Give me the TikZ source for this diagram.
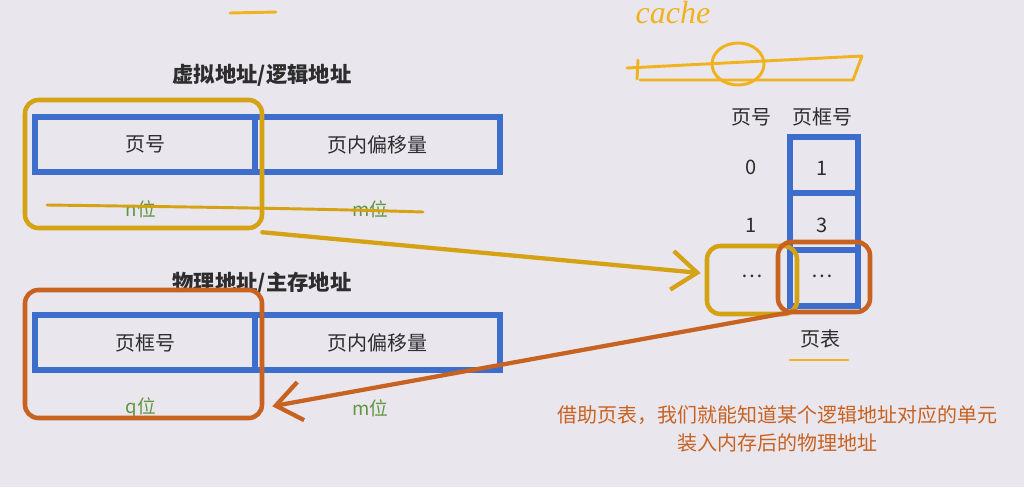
\documentclass[tikz,border=0pt]{standalone}
\usepackage{fontspec}
\setmainfont{Noto Sans CJK SC}
\newfontfamily\hand{Liberation Serif}
\usetikzlibrary{arrows.meta,calc}
\definecolor{bg}{RGB}{233,230,238}
\definecolor{pblue}{RGB}{62,110,204}
\definecolor{pyellow}{RGB}{212,162,18}
\definecolor{sketchy}{RGB}{240,178,30}
\definecolor{porange}{RGB}{200,98,32}
\definecolor{pgreen}{RGB}{96,150,64}
\definecolor{txt}{RGB}{45,45,45}
\tikzset{
  sz/.style 2 args={minimum width=#1*0.75pt, minimum height=#2*0.75pt, inner sep=0pt},
  cell/.style={draw=pblue, line width=4pt, rectangle},
  ybox/.style={draw=pyellow, line width=3.4pt, rounded corners=10pt},
  obox/.style={draw=porange, line width=3.4pt, rounded corners=10pt},
  lbl/.style={text=txt, font=\fontsize{15}{18}\selectfont},
  ttl/.style={text=txt, font=\fontsize{16}{19}\selectfont\bfseries},
  bits/.style={text=pgreen, font=\fontsize{14}{17}\selectfont},
  sketch/.style={draw=sketchy, line width=2.2pt, line cap=round, line join=round},
  yarrow/.style={draw=pyellow, line width=3.2pt, line cap=round,
    -{Straight Barb[length=19pt, width=29pt, line width=3.2pt]}},
  oarrow/.style={draw=porange, line width=3.2pt, line cap=round,
    -{Straight Barb[length=19pt, width=29pt, line width=3.2pt]}},
}
\begin{document}
\begin{tikzpicture}[x=0.75pt, y=-0.75pt]
\fill[bg] (0,0) rectangle (1024,487);
\useasboundingbox (0,0) rectangle (1024,487);

% top sketches
\draw[sketch] (230,13) -- (276,12);
\node[text=sketchy, font=\hand\itshape\fontsize{24}{26}\selectfont] (cache) at (673,13) {cache};
\draw[sketch] (627,68) -- (862,56) -- (853,80) -- (640,80);
\draw[sketch] (638,60) -- (637,79);
\draw[sketch] (738,64) ellipse [x radius=26, y radius=21];

% virtual address
\node[ttl] (vtitle) at (262,75) {虚拟地址/逻辑地址};
\node[cell, sz={220}{55}] (vpn) at (145,144.5) {};
\node[cell, sz={245}{55}] (voff) at (377.5,144.5) {};
\node[lbl] (vpnt) at (vpn) {页号};
\node[lbl] (vofft) at (voff) {页内偏移量};
\node[bits] (nbit) at (141,209) {n位};
\node[bits] (mbit1) at (370,209) {m位};
\draw[sketch, draw=pyellow] (47,205) .. controls (200,207) and (330,209) .. (423,212);
\node[ybox, sz={237}{128}] (vbox) at (143.5,164) {};

% physical address
\node[ttl] (ptitle) at (262,283) {物理地址/主存地址};
\node[cell, sz={220}{55}] (pfn) at (145,342.5) {};
\node[cell, sz={245}{55}] (poff) at (377.5,342.5) {};
\node[lbl] (pfnt) at (pfn) {页框号};
\node[lbl] (pofft) at (poff) {页内偏移量};
\node[bits] (qbit) at (141,408) {q位};
\node[bits] (mbit2) at (370,408) {m位};
\node[obox, sz={237}{128}] (pbox) at (143.5,354) {};

% page table
\node[lbl] (hpn) at (751,117) {页号};
\node[lbl] (hpf) at (822,117) {页框号};
\node[cell, sz={68}{56}] (r0) at (824,165) {};
\node[cell, sz={68}{57}] (r1) at (824,221.5) {};
\node[cell, sz={68}{56}] (r2) at (824,278) {};
\node[lbl] (k0) at (751,167) {0};
\node[lbl] (v0) at (822,168) {1};
\node[lbl] (k1) at (751,225) {1};
\node[lbl] (v1) at (822,225) {3};
\node[lbl] (k2) at (752,276) {\dots};
\node[lbl] (v2) at (822,276) {\dots};
\node[ybox, sz={90}{68}] (tyel) at (752,280) {};
\node[obox, sz={92}{70}] (tora) at (824,277) {};
\node[lbl] (ptl) at (820,339) {页表};
\draw[sketch] (790,360) -- (848,360);

% arrows
\draw[yarrow] ($(vbox.south east)+(-2,2)$) -- ($(tyel.west)+(-4,-7)$);
\draw[oarrow] ($(tora.south west)+(20,-3)$) -- ($(pbox.south east)+(8,-14)$);

% note
\node[text=porange, font=\fontsize{15}{21}\selectfont, align=center] (note) at (777,429)
  {借助页表，我们就能知道某个逻辑地址对应的单元\\装入内存后的物理地址};
\end{tikzpicture}
\end{document}
